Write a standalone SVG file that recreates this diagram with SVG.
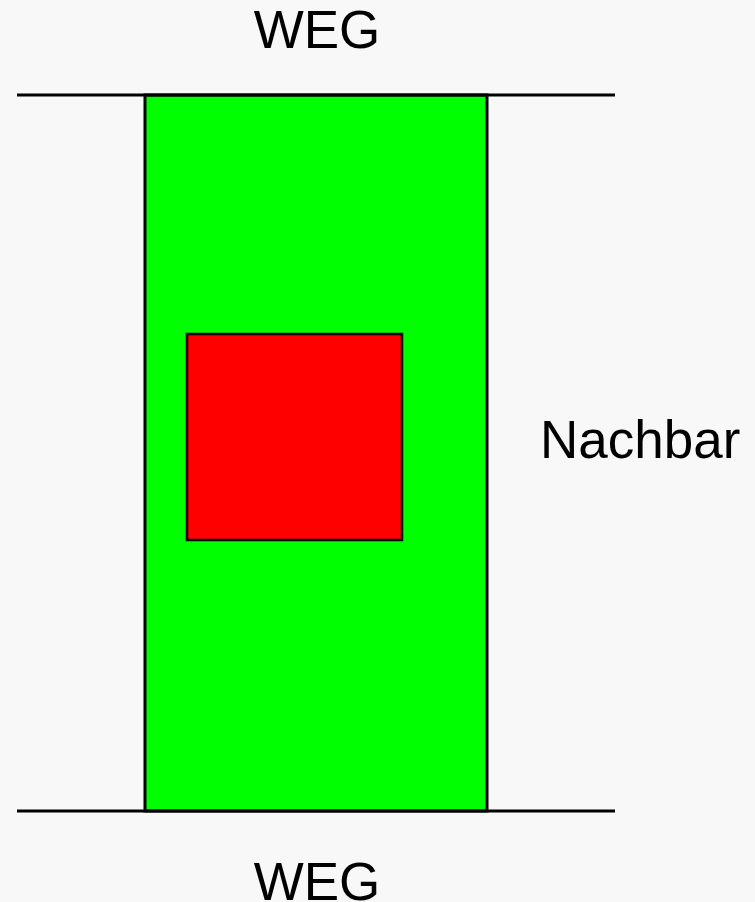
<svg xmlns="http://www.w3.org/2000/svg" width="755" height="902" viewBox="0 0 755 902">
<style>
.t{font-family:"Liberation Sans",Arial,sans-serif;font-size:53px;fill:#000}
.ln{stroke:#000;stroke-width:3;fill:none}
</style>
<rect width="755" height="902" fill="#f8f8f8"/>
<g id="plot"><rect x="145" y="95" width="342" height="716" fill="#00ff00" stroke="#000" stroke-width="3"/></g>
<g id="house"><rect x="187" y="334" width="215" height="206" fill="#ff0000" stroke="#000" stroke-width="2.5"/></g>
<g id="roads">
<line class="ln" x1="17" y1="95" x2="615" y2="95"/>
<line class="ln" x1="17" y1="811" x2="615" y2="811"/>
</g>
<g id="labels">
<text class="t" x="317" y="48" text-anchor="middle">WEG</text>
<text class="t" x="317" y="900" text-anchor="middle">WEG</text>
<text class="t" x="540" y="458">Nachbar</text>
</g>
</svg>
